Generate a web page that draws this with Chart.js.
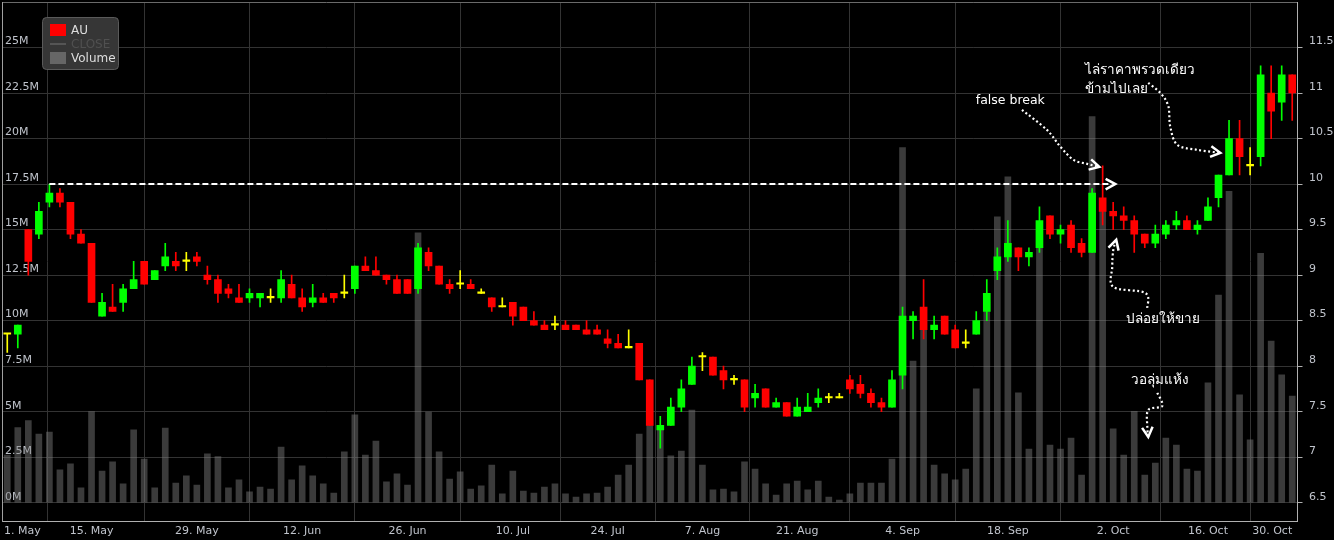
<!DOCTYPE html>
<html><head><meta charset="utf-8">
<style>html,body{margin:0;padding:0;background:#000;overflow:hidden}canvas{display:block}</style>
<script src="https://cdn.jsdelivr.net/npm/chart.js@4.4.1/dist/chart.umd.min.js"></script>
</head><body>
<canvas id="c" width="1334" height="540"></canvas>
<script>
// ---- data (index = trading session, 0 .. 122) ----
const open = [8.35,8.35,9.50,9.45,9.80,9.90,9.80,9.45,9.35,8.55,
 8.65,8.70,8.85,9.15,8.95,9.10,9.15,9.15,9.20,9.00,
 8.95,8.85,8.75,8.75,8.75,8.75,8.75,8.90,8.75,8.70,
 8.75,8.80,8.80,8.85,9.10,9.05,9.00,8.95,8.95,8.85,
 9.25,9.10,8.90,8.90,8.90,8.80,8.75,8.65,8.70,8.65,
 8.50,8.45,8.45,8.45,8.45,8.40,8.40,8.30,8.25,8.20,
 8.25,7.85,7.30,7.35,7.55,7.80,8.10,8.10,7.95,7.85,
 7.85,7.65,7.75,7.55,7.60,7.45,7.50,7.60,7.65,7.65,
 7.85,7.80,7.70,7.60,7.55,7.90,8.50,8.65,8.40,8.55,
 8.40,8.25,8.35,8.60,9.05,9.20,9.30,9.20,9.30,9.65,
 9.45,9.55,9.35,9.25,9.85,9.70,9.65,9.60,9.45,9.35,
 9.45,9.55,9.60,9.50,9.60,9.85,10.10,10.50,10.20,10.30,
 11.00,10.90,11.20];
const high = [8.35,8.45,9.50,9.80,10.00,9.95,9.80,9.50,9.35,8.80,
 8.90,8.90,9.15,9.15,9.05,9.35,9.25,9.25,9.25,9.10,
 9.00,8.90,8.90,8.85,8.80,8.85,9.05,9.00,8.85,8.90,
 8.80,8.80,9.00,9.10,9.20,9.20,9.00,9.00,8.95,9.35,
 9.30,9.10,8.95,9.05,8.95,8.85,8.75,8.75,8.70,8.65,
 8.60,8.50,8.55,8.50,8.45,8.50,8.45,8.40,8.35,8.40,
 8.25,7.85,7.45,7.65,7.85,8.10,8.15,8.10,8.00,7.90,
 7.85,7.80,7.75,7.65,7.60,7.65,7.70,7.75,7.70,7.70,
 7.90,7.90,7.75,7.65,7.95,8.65,8.60,8.95,8.55,8.55,
 8.45,8.40,8.60,8.95,9.30,9.60,9.30,9.30,9.75,9.65,
 9.55,9.60,9.40,9.95,10.20,9.80,9.75,9.65,9.45,9.55,
 9.60,9.70,9.65,9.60,9.85,10.10,10.70,10.70,10.40,11.30,
 11.30,11.30,11.20];
const low = [8.15,8.20,9.00,9.40,9.75,9.75,9.40,9.35,8.70,8.55,
 8.60,8.60,8.85,8.90,8.95,9.05,9.05,9.05,9.10,8.90,
 8.70,8.75,8.70,8.70,8.65,8.70,8.70,8.75,8.60,8.65,
 8.70,8.70,8.75,8.80,9.05,9.00,8.90,8.80,8.80,8.80,
 9.05,8.90,8.80,8.85,8.85,8.80,8.60,8.65,8.45,8.50,
 8.45,8.40,8.40,8.40,8.40,8.35,8.35,8.20,8.20,8.20,
 7.85,7.35,7.10,7.35,7.50,7.80,7.95,7.90,7.75,7.80,
 7.50,7.55,7.55,7.55,7.45,7.45,7.50,7.55,7.60,7.65,
 7.70,7.65,7.55,7.50,7.55,7.75,8.30,8.30,8.30,8.35,
 8.20,8.20,8.35,8.50,8.95,9.15,9.05,9.10,9.25,9.40,
 9.35,9.25,9.20,9.25,9.55,9.50,9.50,9.25,9.30,9.30,
 9.40,9.50,9.50,9.45,9.60,9.75,10.10,10.10,10.10,10.20,
 10.50,10.70,10.70];
const close = [8.35,8.45,9.15,9.70,9.90,9.80,9.45,9.35,8.70,8.70,
 8.60,8.85,8.95,8.90,9.05,9.20,9.10,9.15,9.15,8.95,
 8.80,8.80,8.70,8.80,8.80,8.75,8.95,8.75,8.65,8.75,
 8.70,8.75,8.80,9.10,9.05,9.00,8.95,8.80,8.80,9.30,
 9.10,8.90,8.85,8.90,8.85,8.80,8.65,8.65,8.55,8.50,
 8.45,8.40,8.45,8.40,8.40,8.35,8.35,8.25,8.20,8.20,
 7.85,7.35,7.35,7.55,7.75,8.00,8.10,7.90,7.85,7.85,
 7.55,7.70,7.55,7.60,7.45,7.55,7.55,7.65,7.65,7.65,
 7.75,7.70,7.60,7.55,7.85,8.55,8.55,8.40,8.45,8.35,
 8.20,8.25,8.50,8.80,9.20,9.35,9.20,9.25,9.60,9.45,
 9.50,9.30,9.25,9.90,9.70,9.65,9.60,9.45,9.35,9.45,
 9.55,9.60,9.50,9.55,9.75,10.10,10.50,10.30,10.20,11.20,
 10.80,11.20,11.00];
// volume in millions of shares
const volumeM = [2.62,4.12,4.51,3.77,3.88,1.80,2.13,0.81,5.00,1.74,
 2.24,1.03,4.00,2.40,0.81,4.10,1.08,1.47,0.97,2.68,
 2.53,0.81,1.25,0.59,0.86,0.75,3.06,1.25,2.02,1.47,
 1.03,0.53,2.79,4.82,2.62,3.39,1.14,1.58,0.97,14.82,
 4.98,2.79,1.30,1.69,0.75,0.92,2.07,0.48,1.74,0.64,
 0.53,0.86,1.03,0.48,0.31,0.48,0.53,0.86,1.52,2.07,
 3.77,6.00,4.10,2.57,2.84,5.09,2.07,0.70,0.75,0.59,
 2.24,1.85,1.03,0.42,1.03,1.19,0.70,1.19,0.31,0.15,
 0.48,1.08,1.08,1.08,2.40,19.50,7.78,10.50,2.07,1.58,
 1.25,1.85,6.25,11.00,15.70,17.90,6.03,2.95,14.50,3.17,
 2.95,3.55,1.52,21.20,16.50,4.05,2.62,5.02,1.52,2.18,
 3.55,3.17,1.85,1.74,6.58,11.40,17.10,5.92,3.45,13.70,
 8.88,7.02,5.86];
// x-axis ticks (session index) and labels
const xTickPos = [-0.31, 8, 18, 28, 38, 48, 57, 66, 75, 85, 95, 105, 114, 122];
const xTickLabels = ['1. May','15. May','29. May','12. Jun','26. Jun','10. Jul','24. Jul','7. Aug','21. Aug','4. Sep','18. Sep','2. Oct','16. Oct','30. Oct'];
const priceTicks = [6.5,7,7.5,8,8.5,9,9.5,10,10.5,11,11.5];
const priceTickLabels = ['6.5','7','7.5','8','8.5','9','9.5','10','10.5','11','11.5'];
const volumeTicks = [0,2.5e6,5e6,7.5e6,10e6,12.5e6,15e6,17.5e6,20e6,22.5e6,25e6,27.5e6];
const volumeTickLabels = ['0M','2.5M','5M','7.5M','10M','12.5M','15M','17.5M','20M','22.5M','25M',''];

// annotation anchors in data units [session index, price]
const breakLevel = {from: 4, to: 104.7, tip: 105.2, price: 10.0};
const arrows = [
  [[96.34,10.815],[98.71,10.595],[99.97,10.412],[101.24,10.266],[102.54,10.222],[103.68,10.189]],
  [[108.33,11.112],[109.47,11.002],[110.23,10.859],[110.42,10.629],[111.09,10.431],[112.99,10.376],[115.17,10.343]],
  [[108.24,8.640],[108.05,8.804],[105.01,8.870],[104.91,9.090],[105.01,9.277],[105.29,9.387]],
  [[109.19,7.706],[109.66,7.563],[108.33,7.519],[108.24,7.332],[108.33,7.222]]
];
const notes = [
  {text:'false break', x:91.95, p:10.914, size:12.5},
  {text:'ไล่ราคาพรวดเดียว', x:102.35, p:11.244, size:13.5},
  {text:'ข้ามไปเลย', x:102.35, p:11.035, size:13.5},
  {text:'ปล่อยให้ขาย', x:106.24, p:8.508, size:13.5},
  {text:'วอลุ่มแห้ง', x:106.72, p:7.837, size:13.5}
];

// ---- chart ----
const FONT = "'DejaVu Sans', 'Noto Sans', sans-serif";
Chart.defaults.font.family = FONT;
Chart.defaults.font.size = 11;
Chart.defaults.color = '#c0c4cc';

const colorOf = i => close[i] > open[i] ? '#00ff00' : (close[i] < open[i] ? '#ff0000' : '#ffff00');
const candleColors = open.map((o, i) => colorOf(i));
const bodyData = open.map((o, i) => ({x: i, y: [o, close[i]]}));
const wickData = low.map((l, i) => ({x: i, y: [l, high[i]]}));
const volData = volumeM.map((v, i) => ({x: i, y: v * 1e6}));

function smoothPath(ctx, pts) {
  ctx.beginPath();
  ctx.moveTo(pts[0][0], pts[0][1]);
  for (let i = 0; i < pts.length - 1; i++) {
    const p0 = pts[i - 1] || pts[i], p1 = pts[i], p2 = pts[i + 1], p3 = pts[i + 2] || p2;
    ctx.bezierCurveTo(p1[0] + (p2[0] - p0[0]) / 6, p1[1] + (p2[1] - p0[1]) / 6,
                      p2[0] - (p3[0] - p1[0]) / 6, p2[1] - (p3[1] - p1[1]) / 6, p2[0], p2[1]);
  }
  ctx.stroke();
}
function chevron(ctx, from, tip, len, ang) {
  const a = Math.atan2(tip[1] - from[1], tip[0] - from[0]);
  ctx.beginPath();
  ctx.moveTo(tip[0] - len * Math.cos(a - ang), tip[1] - len * Math.sin(a - ang));
  ctx.lineTo(tip[0], tip[1]);
  ctx.lineTo(tip[0] - len * Math.cos(a + ang), tip[1] - len * Math.sin(a + ang));
  ctx.stroke();
}

const annotations = {
  id: 'annotations',
  afterDatasetsDraw(chart) {
    const {ctx, scales: {x, yP}} = chart;
    const P = (i, p) => [x.getPixelForValue(i), yP.getPixelForValue(p)];
    ctx.save();
    const a = P(breakLevel.from, breakLevel.price), b = P(breakLevel.to, breakLevel.price), t = P(breakLevel.tip, breakLevel.price);
    ctx.strokeStyle = '#ffffff';
    ctx.lineWidth = 2;
    ctx.setLineDash([6, 3]);
    ctx.beginPath(); ctx.moveTo(a[0], a[1]); ctx.lineTo(b[0], b[1]); ctx.stroke();
    ctx.setLineDash([]);
    ctx.lineWidth = 2.5;
    chevron(ctx, a, t, 11, 0.5);
    arrows.forEach(pts => {
      const px = pts.map(q => P(q[0], q[1]));
      ctx.lineWidth = 2.2;
      ctx.setLineDash([2, 2.5]);
      smoothPath(ctx, px);
      ctx.setLineDash([]);
      ctx.lineWidth = 2.5;
      chevron(ctx, px[px.length - 2], px[px.length - 1], 11, 0.5);
    });
    ctx.fillStyle = '#ffffff';
    ctx.textBaseline = 'middle';
    ctx.textAlign = 'left';
    notes.forEach(n => {
      const q = P(n.x, n.p);
      ctx.font = n.size + "px 'DejaVu Sans', 'Noto Sans', sans-serif";
      ctx.fillText(n.text, q[0], q[1]);
    });
    ctx.restore();
  },
  afterDraw(chart) {
    const ctx = chart.ctx;
    ctx.save();
    ctx.beginPath();
    ctx.roundRect(42.5, 17.5, 76, 52, 4);
    ctx.fillStyle = '#363636';
    ctx.fill();
    ctx.strokeStyle = '#5a5a5a';
    ctx.lineWidth = 1;
    ctx.stroke();
    ctx.font = "12px 'DejaVu Sans', 'Noto Sans', sans-serif";
    ctx.textBaseline = 'middle';
    ctx.fillStyle = '#ff0000';
    ctx.fillRect(50, 24, 16, 12);
    ctx.fillStyle = '#dddddd';
    ctx.fillText('AU', 71, 30.5);
    ctx.strokeStyle = '#555555';
    ctx.lineWidth = 2;
    ctx.beginPath(); ctx.moveTo(50, 44); ctx.lineTo(66, 44); ctx.stroke();
    ctx.fillStyle = '#505050';
    ctx.fillText('CLOSE', 71, 44.5);
    ctx.fillStyle = '#666666';
    ctx.fillRect(50, 52, 16, 12);
    ctx.fillStyle = '#dddddd';
    ctx.fillText('Volume', 71, 58.5);
    ctx.restore();
  }
};

const noPadY = s => { s.paddingTop = 0; s.paddingBottom = 0; };

new Chart(document.getElementById('c'), {
  type: 'bar',
  data: {
    datasets: [
      {label: 'AU', data: bodyData, xAxisID: 'x', yAxisID: 'yP', backgroundColor: candleColors,
       barThickness: 7, minBarLength: 1.5, grouped: false, order: 0, borderWidth: 0},
      {label: 'AU range', data: wickData, xAxisID: 'x', yAxisID: 'yP', backgroundColor: candleColors,
       barThickness: 1, grouped: false, order: 1, borderWidth: 0},
      {label: 'Volume', data: volData, xAxisID: 'x', yAxisID: 'yV', backgroundColor: 'rgba(128,128,128,0.46)',
       barThickness: 6, grouped: false, order: 2, borderWidth: 0}
    ]
  },
  options: {
    responsive: false, animation: false, devicePixelRatio: 1,
    layout: {padding: {top: 2, left: 0, right: 0, bottom: 0}},
    plugins: {legend: {display: false}, tooltip: {enabled: false}},
    scales: {
      x: {
        type: 'linear', position: 'bottom', min: -0.5, max: 122.5, offset: false,
        afterBuildTicks: s => { s.ticks = xTickPos.map(v => ({value: v})); },
        afterFit: s => { s.height = 18.5; s.paddingLeft = 0; s.paddingRight = 0; },
        grid: {color: c => (c.index === 0 ? 'rgba(0,0,0,0)' : '#333333'), drawTicks: false},
        border: {color: '#b0b0b0'},
        ticks: {align: 'inner', padding: 3, maxRotation: 0, autoSkip: false,
                callback: (v, i) => xTickLabels[i]}
      },
      yV: {
        type: 'linear', position: 'left', min: -1.033e6, max: 27.5e6,
        afterBuildTicks: s => { s.ticks = volumeTicks.map(v => ({value: v})); },
        afterFit: s => { s.width = 2; noPadY(s); },
        grid: {color: c => (c.index === volumeTicks.length - 1 ? '#6a6a6a' : '#333333'), drawTicks: false},
        border: {color: '#a0a0a0'},
        ticks: {mirror: true, padding: 3, labelOffset: -6, callback: (v, i) => volumeTickLabels[i]}
      },
      yP: {
        type: 'linear', position: 'right', min: 6.2934, max: 12,
        afterBuildTicks: s => { s.ticks = priceTicks.map(v => ({value: v})); },
        afterFit: s => { s.width = 36.5; noPadY(s); },
        grid: {drawOnChartArea: false, drawTicks: true, tickLength: 5, tickColor: '#b0b0b0'},
        border: {color: '#b0b0b0'},
        ticks: {padding: 6.5, labelOffset: -6, callback: (v, i) => priceTickLabels[i]}
      }
    }
  },
  plugins: [annotations]
});
</script>
</body></html>
